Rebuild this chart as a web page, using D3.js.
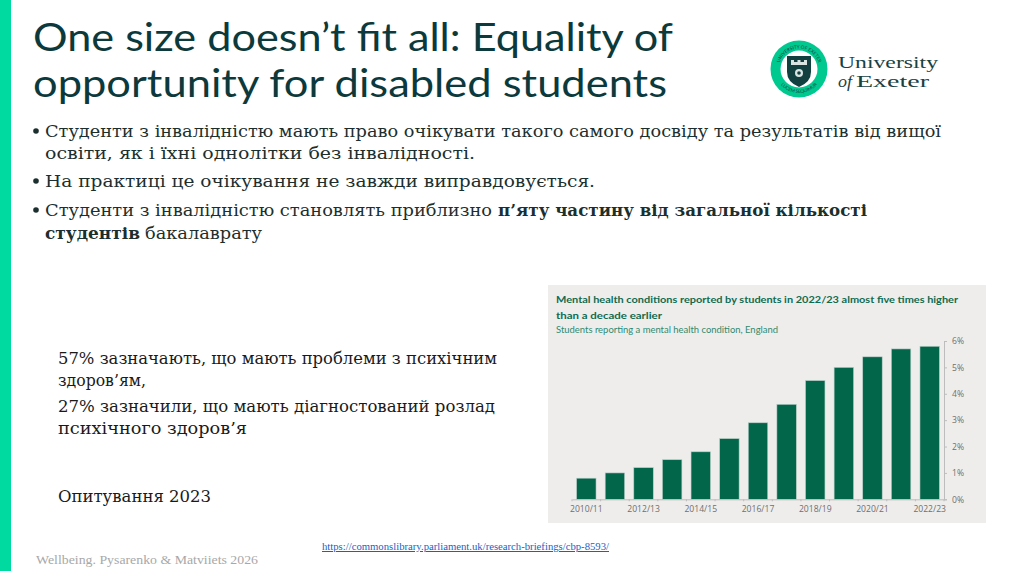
<!DOCTYPE html>
<html><head><meta charset="utf-8">
<script src="https://cdn.jsdelivr.net/npm/d3@7"></script>
<style>html,body{margin:0;padding:0;background:#fff}svg{display:block}</style>
</head><body><svg id="s" width="1024" height="571"></svg>
<script>
const categories=["2010/11","2011/12","2012/13","2013/14","2014/15","2015/16","2016/17","2017/18","2018/19","2019/20","2020/21","2021/22","2022/23"];
const values=[0.8,1.0,1.2,1.5,1.8,2.3,2.9,3.6,4.5,5.0,5.4,5.7,5.8];
const xTickLabels=["2010/11","2012/13","2014/15","2016/17","2018/19","2020/21","2022/23"];
const yTickValues=[0,1,2,3,4,5,6];
const titleLines=["One size doesn’t fit all: Equality of","opportunity for disabled students"];
const chartTitleLines=["Mental health conditions reported by students in 2022/23 almost five times higher","than a decade earlier"];
const chartSubtitle="Students reporting a mental health condition, England";

const svg=d3.select("#s");
const SERIF="'DejaVu Serif',serif";
function text(x,y,t,o={}){
  const e=svg.append("text").attr("x",x).attr("y",y).text(t)
    .attr("font-family",o.f||SERIF).attr("font-size",o.s||16).attr("fill",o.c||"#1c2b2a");
  if(o.w)e.attr("font-weight",o.w);
  if(o.st)e.attr("font-style",o.st);
  if(o.len)e.attr("textLength",o.len).attr("lengthAdjust","spacingAndGlyphs");
  return e;
}
svg.append("rect").attr("x",0).attr("y",0).attr("width",11).attr("height",571).attr("fill","#00d9a0");

titleLines.forEach((t,i)=>text(33,[51,97][i],t,{f:"Lato,sans-serif",s:39,c:"#0c3a3c",len:[640,634][i]}));

// bullets
const DARK="#1b2f2e";
[[137,"Студенти з інвалідністю мають право очікувати такого самого досвіду та результатів від вищої",45,896],
 [159,"освіти, як і їхні однолітки без інвалідності.",45,430],
 [187,"На практиці це очікування не завжди виправдовується.",45,550],
 [216,"Студенти з інвалідністю становлять приблизно",45,447],
 [239,"бакалаврату",145,117]].forEach(([y,t,x0,l])=>text(x0,y,t,{s:17,len:l,c:DARK}));
text(498,216,"п’яту частину від загальної кількості",{s:17,c:DARK,w:"bold",len:369});
text(45,239,"студентів",{s:17,c:DARK,w:"bold",len:95});
[131,181,210].forEach(cy=>svg.append("circle").attr("cx",36).attr("cy",cy).attr("r",2.8).attr("fill",DARK));

[[364,"57% зазначають, що мають проблеми з психічним",439],
 [386,"здоров’ям,",88],
 [412,"27% зазначили, що мають діагностований розлад",437],
 [434,"психічного здоров’я",189],
 [502,"Опитування 2023",153]].forEach(([y,t,l])=>text(58,y,t,{s:16,len:l,c:"#1a1a1a"}));

// footer
text(36,564,"Wellbeing. Pysarenko & Matviiets 2026",{s:13,len:222,c:"#a8a8a8",f:"'Liberation Serif',serif"});
text(322,550,"https://commonslibrary.parliament.uk/research-briefings/cbp-8593/",{s:10,len:287,c:"#1a5fc4",f:"'Liberation Serif',serif"})
  .attr("text-decoration","underline");

// logo
const lg=svg.append("g");
lg.append("circle").attr("cx",799).attr("cy",69).attr("r",28.5).attr("fill","#00c98f");
lg.append("circle").attr("cx",799).attr("cy",69).attr("r",18.5).attr("fill","#fff");
const defs=svg.append("defs");
defs.append("path").attr("id","arcTop").attr("d","M778.5 69A20.5 20.5 0 0 1 819.5 69");
defs.append("path").attr("id","arcBot").attr("d","M775 69A24 24 0 0 0 823 69");
[["arcTop","UNIVERSITY OF EXETER"],["arcBot","LUCEM SEQUIMUR"]].forEach(([id,t])=>{
  lg.append("text").attr("font-family","Lato,sans-serif").attr("font-size",4.6).attr("fill","#123f40").attr("text-anchor","middle")
    .append("textPath").attr("href","#"+id).attr("startOffset","50%").text(t);
});
lg.append("path").attr("d","M787 56H811V72Q811 82 799 87Q787 82 787 72Z").attr("fill","#123f40");
lg.append("path").attr("d","M791 65V60H794V62H797.5V60H800.5V62H804V60H807V65Z").attr("fill","#d8e4e2");
lg.append("circle").attr("cx",799).attr("cy",73).attr("r",4).attr("fill","#d8e4e2");
lg.append("circle").attr("cx",799).attr("cy",73).attr("r",1.8).attr("fill","#123f40");
const LF="'Liberation Serif',serif";
text(838,67.5,"University",{f:LF,s:17.5,c:"#174244",len:100});
text(838,87,"of",{f:LF,s:17.5,st:"italic",c:"#174244",len:14});
text(856,87,"Exeter",{f:LF,s:17.5,c:"#174244",len:73});

// chart panel
svg.append("rect").attr("x",548).attr("y",285).attr("width",438).attr("height",238).attr("fill","#eeedec");
const CF="Lato,sans-serif";
chartTitleLines.forEach((t,i)=>text(556,[303,319][i],t,{f:CF,s:10,w:"bold",c:"#0f6b50",len:[402,106][i]}));
text(556,333,chartSubtitle,{f:CF,s:9.5,c:"#2f8a6e",len:222});

const x=d3.scaleBand().domain(categories).range([572,944]).paddingInner(0.32).paddingOuter(0.16);
const y=d3.scaleLinear().domain([0,6]).range([499.3,341]);
svg.append("g").selectAll("rect").data(values).join("rect")
  .attr("x",(d,i)=>x(categories[i])).attr("width",x.bandwidth())
  .attr("y",d=>y(d)).attr("height",d=>y(0)-y(d))
  .attr("fill","#01664a").attr("stroke","#b9cfc6").attr("stroke-width",0.6);

const gx=svg.append("g").attr("transform",`translate(0,${y(0)})`)
  .call(d3.axisBottom(x).tickValues(xTickLabels).tickSize(0).tickPadding(7));
gx.select(".domain").attr("stroke","#bdbdbd");
gx.selectAll("text").attr("font-family","'Open Sans',sans-serif").attr("font-size",8.6).attr("fill","#6f6f6f");
svg.append("g").selectAll("line").data(d3.range(14)).join("line")
  .attr("x1",i=>572+i*x.step()).attr("x2",i=>572+i*x.step())
  .attr("y1",y(0)).attr("y2",y(0)+2).attr("stroke","#bdbdbd");

const gy=svg.append("g").attr("transform","translate(944,0)")
  .call(d3.axisRight(y).tickValues(yTickValues).tickFormat(d=>d+"%").tickSize(3).tickPadding(5));
gy.select(".domain").attr("stroke","#bdbdbd");
gy.selectAll("line").attr("stroke","#bdbdbd");
gy.selectAll("text").attr("font-family","'Open Sans',sans-serif").attr("font-size",8.6).attr("fill","#6f6f6f");
</script></body></html>
